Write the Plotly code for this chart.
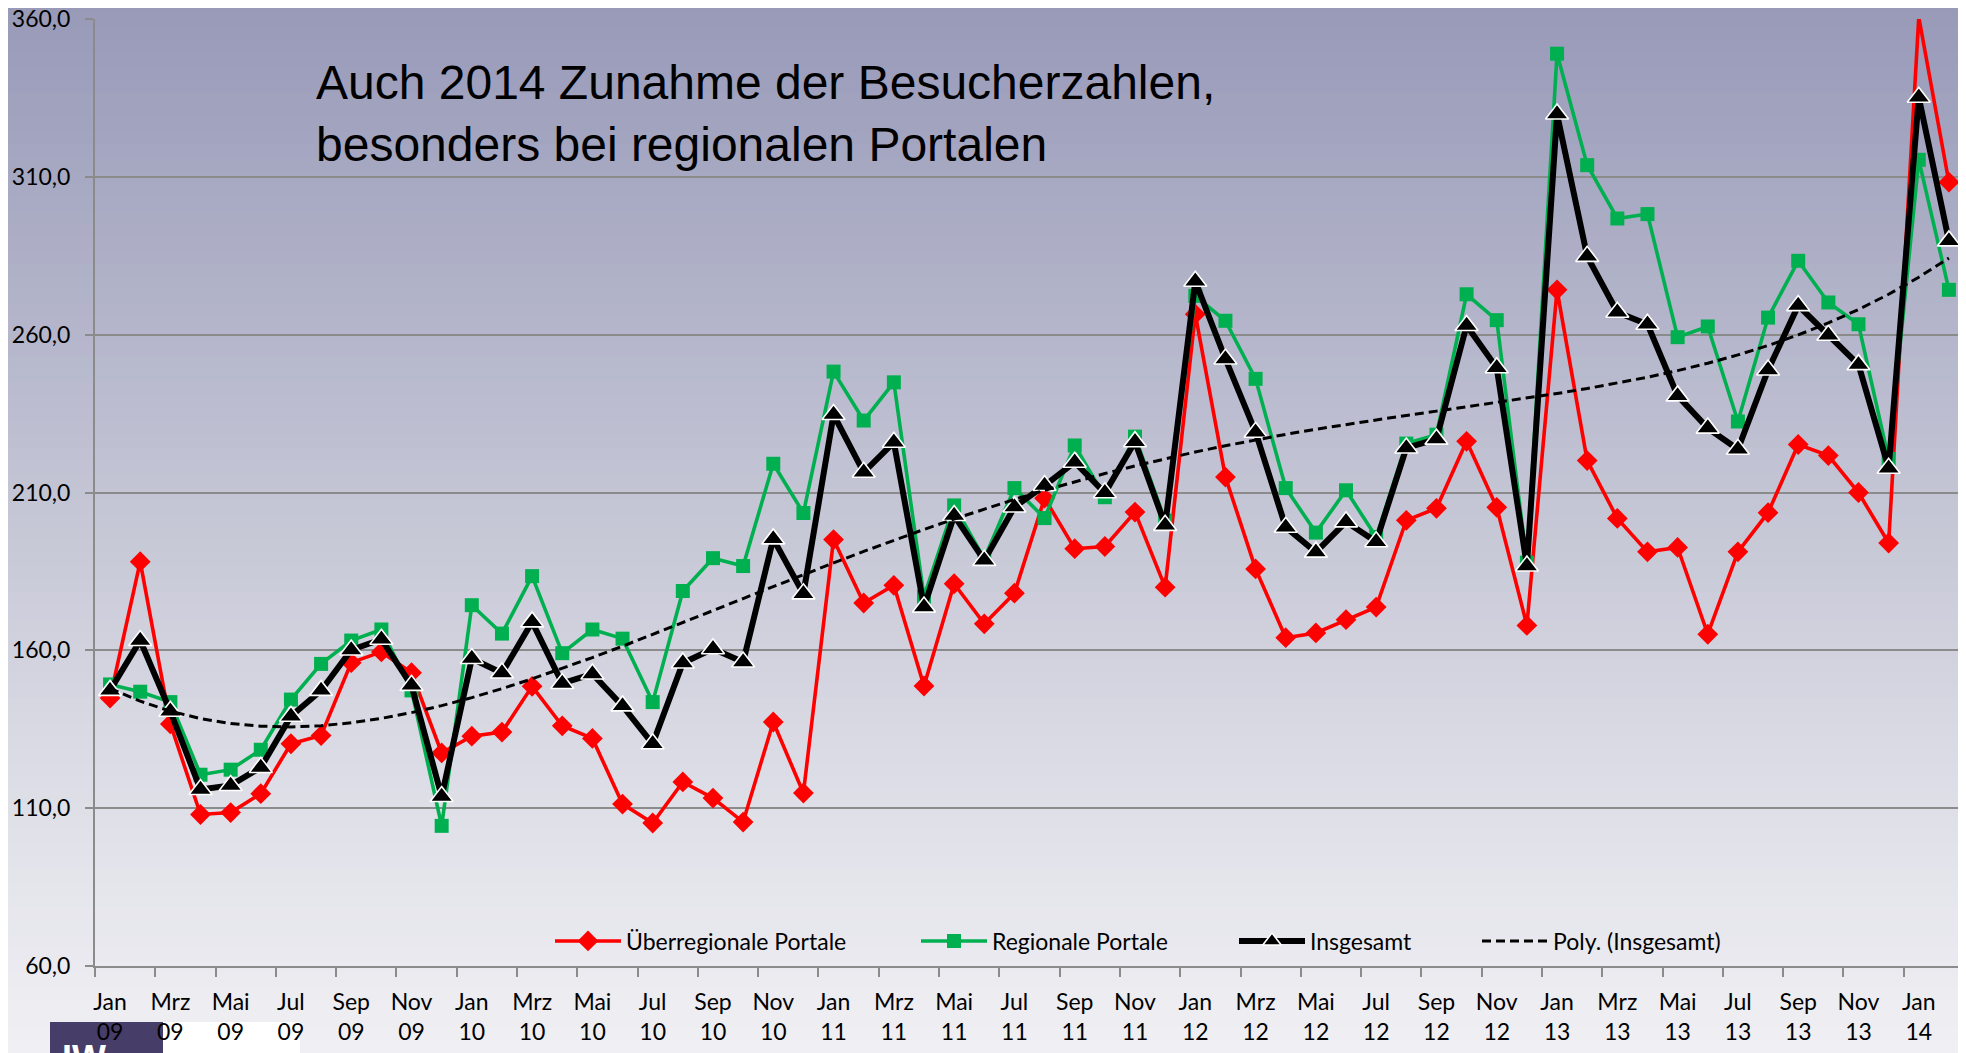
import numpy as np
import plotly.graph_objects as go

# ---------------- data ----------------
label_months = ["Jan", "Mrz", "Mai", "Jul", "Sep", "Nov"]
label_years = ["09", "10", "11", "12", "13", "14"]

ueberregional = [144.9, 188.1, 136.7, 108.0, 108.6, 114.6, 130.4, 133.0, 156.1, 159.5, 152.9, 127.5,
                 132.8, 134.1, 148.6, 136.1, 132.1, 111.3, 105.3, 118.3, 113.2, 105.6, 137.3, 114.8,
                 195.1, 175.0, 180.6, 148.7, 181.1, 168.4, 178.1, 208.2, 192.2, 192.9, 203.8, 180.0,
                 266.5, 214.9, 185.8, 164.0, 165.5, 169.7, 173.7, 201.2, 205.0, 226.2, 205.3, 167.9,
                 274.2, 220.1, 201.8, 191.2, 192.6, 165.1, 191.2, 203.6, 225.2, 221.7, 210.0, 194.0,
                 360.6, 308.3]
regional = [149.2, 146.9, 143.6, 120.6, 122.2, 128.5, 144.4, 155.7, 163.1, 166.6, 147.3, 104.4,
            174.3, 165.3, 183.5, 159.1, 166.6, 163.7, 143.6, 178.8, 189.2, 186.7, 219.1, 203.5,
            248.3, 232.8, 244.9, 177.0, 205.9, 189.0, 211.4, 201.9, 224.9, 208.5, 227.7, 201.1,
            272.3, 264.4, 246.0, 211.4, 197.3, 210.7, 195.9, 225.5, 228.3, 272.8, 264.6, 187.8,
            349.0, 313.7, 296.8, 298.2, 259.2, 262.6, 232.5, 265.4, 283.4, 270.2, 263.3, 220.6,
            315.4, 274.2]
insgesamt = [147.3, 163.1, 140.7, 115.9, 117.2, 122.9, 139.1, 147.3, 160.1, 163.5, 148.9, 113.7,
             157.4, 152.8, 169.0, 149.5, 152.5, 142.4, 130.4, 156.0, 160.5, 156.3, 195.3, 177.9,
             234.7, 216.4, 225.9, 173.7, 202.7, 188.5, 205.4, 212.2, 219.6, 209.9, 226.1, 199.6,
             276.9, 252.3, 229.1, 199.0, 191.1, 200.7, 194.4, 224.1, 226.9, 262.9, 249.5, 186.7,
             329.9, 284.8, 267.1, 263.3, 240.6, 230.4, 223.7, 248.8, 269.2, 259.8, 250.5, 217.7,
             335.2, 289.7]

y_ticks = [60, 110, 160, 210, 260, 310, 360]
title_text = "Auch 2014 Zunahme der Besucherzahlen,<br>besonders bei regionalen Portalen"

# ---------------- derived ----------------
n = len(insgesamt)
idx = np.arange(n)
tick_pos = list(range(0, n, 2))
tick_text = [f"{label_months[k % 6]}<br>{label_years[k // 6]}" for k in range(len(tick_pos))]
boundary_ticks = [p - 0.5 for p in range(0, n + 1, 2)]

# Excel-style polynomial trendline of "Insgesamt"
trend_coef = np.polyfit(idx, insgesamt, 4)
trend = np.polyval(trend_coef, idx)

# page is 1966x1053; the figure div sits 8px in from the body's top/left edges
OFF = 8
PW, PH = 1966, 1053
W, H = PW - OFF, PH - OFF
ML, MR, MT, MB = 95 - OFF, 2, 19 - OFF, 87
pw, ph = W - ML - MR, H - MT - MB

def px_x(x):  # page pixel -> paper
    return (x - OFF - ML) / pw

def px_y(y):
    return (H - MB - (y - OFF)) / ph

FONT = "Lato"
GRID = "#8b8b8b"
ITEMW = 66

fig = go.Figure()

fig.add_trace(go.Scatter(
    x=idx, y=ueberregional, mode="lines+markers", name="Überregionale Portale",
    line=dict(color="#ff0000", width=3.6),
    marker=dict(symbol="diamond", size=16, color="#ff0000"),
    cliponaxis=False, legend="legend"))
fig.add_trace(go.Scatter(
    x=idx, y=regional, mode="lines+markers", name="Regionale Portale",
    line=dict(color="#00b050", width=3.6),
    marker=dict(symbol="square", size=14, color="#00b050"),
    cliponaxis=False, legend="legend2"))
fig.add_trace(go.Scatter(
    x=idx, y=insgesamt, mode="lines+markers", name="Insgesamt",
    line=dict(color="#000000", width=6),
    marker=dict(symbol="triangle-up", size=20, color="#000000",
                line=dict(color="#ffffff", width=1.6)),
    cliponaxis=False, legend="legend3"))
fig.add_trace(go.Scatter(
    x=idx, y=trend, mode="lines", name="Poly. (Insgesamt)",
    line=dict(color="#000000", width=3, dash="9px,5px"),
    legend="legend4"))

# background gradient (page-wide bands)
stops = [(0.0, (151, 153, 184)), (0.5, (198, 199, 214)), (0.75, (222, 222, 231)), (1.0, (240, 240, 244))]

def grad(t):
    for (t0, c0), (t1, c1) in zip(stops[:-1], stops[1:]):
        if t <= t1:
            f = (t - t0) / (t1 - t0)
            return "rgb(%d,%d,%d)" % tuple(round(a + (b - a) * f) for a, b in zip(c0, c1))
    return "rgb(%d,%d,%d)" % stops[-1][1]

shapes = []
nb = 80
for b in range(nb):
    y0p, y1p = PH * b / nb, PH * (b + 1) / nb + 1
    shapes.append(dict(type="rect", xref="paper", yref="paper", layer="below",
                       x0=px_x(0), x1=px_x(PW + 10), y0=px_y(y1p), y1=px_y(y0p),
                       fillcolor=grad((b + 0.5) / nb), line=dict(width=0)))
# logo block bottom-left
shapes.append(dict(type="rect", xref="paper", yref="paper", layer="below",
                   x0=px_x(162), x1=px_x(300), y0=px_y(PH + 2), y1=px_y(1022),
                   fillcolor="#ffffff", line=dict(width=0)))
shapes.append(dict(type="rect", xref="paper", yref="paper", layer="below",
                   x0=px_x(50), x1=px_x(163), y0=px_y(PH + 2), y1=px_y(1022),
                   fillcolor="#463d69", line=dict(width=0)))

annotations = [
    dict(text=title_text, xref="paper", yref="paper", x=px_x(314), y=px_y(54),
         xanchor="left", yanchor="top", align="left", showarrow=False,
         font=dict(family="Liberation Sans, Arial", size=48, color="#000000")),
    dict(text="<b>IW</b>", xref="paper", yref="paper", x=px_x(60), y=px_y(1036),
         xanchor="left", yanchor="top", showarrow=False,
         font=dict(family="Liberation Sans, Arial", size=36, color="#ffffff")),
]

def legend_at(text_start):
    return dict(orientation="h", yanchor="middle", y=px_y(941), xanchor="left",
                x=px_x(text_start - 41 - (ITEMW - 30)), itemwidth=ITEMW, visible=True,
                bgcolor="rgba(0,0,0,0)", font=dict(family=FONT, size=23, color="#000000"))

fig.update_layout(
    width=W, height=H,
    margin=dict(l=ML, r=MR, t=MT, b=MB, pad=0),
    paper_bgcolor="#efeff3",
    plot_bgcolor="rgba(0,0,0,0)",
    separators=",.",
    showlegend=True,
    font=dict(family=FONT, size=22, color="#000000"),
    shapes=shapes,
    annotations=annotations,
    legend=legend_at(627),
    legend2=legend_at(993),
    legend3=legend_at(1311),
    legend4=legend_at(1554),
    xaxis=dict(range=[-0.5, n - 0.5], tickmode="array", tickvals=tick_pos, ticktext=tick_text,
               ticks="", showgrid=False, zeroline=False, showline=True, linecolor=GRID, linewidth=2,
               automargin=False, ticklabelstandoff=14, ticklabeloverflow="allow",
               tickfont=dict(family=FONT, size=23, color="#000000"),
               minor=dict(tickmode="array", tickvals=boundary_ticks, ticks="outside", ticklen=9,
                          tickwidth=1.5, tickcolor=GRID, showgrid=False)),
    yaxis=dict(range=[60, 360], tickmode="array", tickvals=y_ticks, tickformat=".1f",
               showgrid=True, gridcolor=GRID, gridwidth=2, zeroline=False,
               showline=True, linecolor=GRID, linewidth=2, ticks="outside", ticklen=8,
               tickcolor=GRID, tickwidth=1.5, ticklabelstandoff=10, automargin=False,
               ticklabeloverflow="allow",
               tickfont=dict(family=FONT, size=23, color="#000000")),
)

fig.write_html("out.html")
